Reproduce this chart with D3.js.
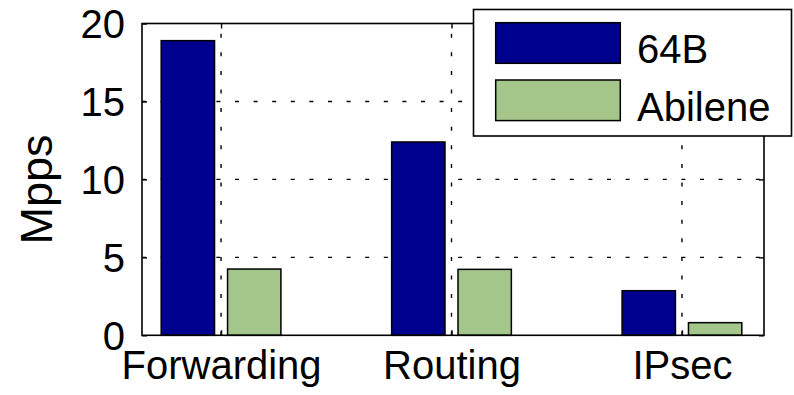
<!DOCTYPE html>
<html>
<head>
<meta charset="utf-8">
<script src="https://cdn.jsdelivr.net/npm/d3@7"></script>
<style>
  html, body { margin: 0; padding: 0; background: #fff; }
  svg { display: block; }
  text { font-family: "Liberation Sans", Arial, Helvetica, sans-serif; fill: #000; }
</style>
</head>
<body>
<svg id="chart" width="794" height="395"></svg>
<script>
// Throughput per workload, in million packets per second
const categories = ["Forwarding", "Routing", "IPsec"];
const seriesNames = ["64B", "Abilene"];
const values64B = [18.9, 12.4, 2.86];
const valuesAbilene = [4.25, 4.23, 0.81];
const yTicks = [0, 5, 10, 15, 20];
const yLabel = "Mpps";

const colors = ["#00008f", "#a5c68a"];
const series = [values64B, valuesAbilene];

const svg = d3.select("#chart");

const plot = { left: 142, right: 764, top: 23.5, bottom: 335.3 };

// Categories sit at positions 1..n, bars offset either side of the centre
const x = d3.scaleLinear().domain([0.657, 3.356]).range([plot.left, plot.right]);
const y = d3.scaleLinear().domain([0, 20]).range([plot.bottom, plot.top]);
const barOffset = [-0.144, 0.144];
const barWidth = 0.2315;

// Dotted grid
const grid = svg.append("g").attr("stroke", "#000").attr("stroke-width", 1.4)
  .attr("stroke-dasharray", "4,14.6");
grid.selectAll("line.h").data(yTicks.filter(t => t > 0 && t < 20)).join("line")
  .attr("class", "h")
  .attr("x1", plot.left).attr("x2", plot.right)
  .attr("y1", d => y(d)).attr("y2", d => y(d));
grid.selectAll("line.v").data(categories).join("line")
  .attr("class", "v")
  .attr("x1", (d, i) => x(i + 1)).attr("x2", (d, i) => x(i + 1))
  .attr("y1", plot.bottom).attr("y2", plot.top);

// Bars
series.forEach((vals, s) => {
  svg.append("g").selectAll("rect").data(vals).join("rect")
    .attr("x", (d, i) => x(i + 1 + barOffset[s] - barWidth / 2))
    .attr("width", x(barWidth) - x(0))
    .attr("y", d => y(d))
    .attr("height", d => y(0) - y(d))
    .attr("fill", colors[s])
    .attr("stroke", "#000")
    .attr("stroke-width", 1.5);
});

// Axes with inward ticks, tick labels drawn by the axis generators
const yAxis = d3.axisLeft(y).tickValues(yTicks).tickSize(-5).tickPadding(17);
const gy = svg.append("g").attr("transform", `translate(${plot.left},0)`).call(yAxis);
gy.select(".domain").remove();
gy.selectAll(".tick line").attr("stroke", "#000").attr("stroke-width", 1.4);
gy.selectAll(".tick text").attr("font-size", 40).attr("font-family", "Liberation Sans, Arial, sans-serif")
  .attr("dy", "0.36em");

const yAxisR = d3.axisRight(y).tickValues(yTicks).tickSize(-5).tickFormat("");
const gyr = svg.append("g").attr("transform", `translate(${plot.right},0)`).call(yAxisR);
gyr.select(".domain").remove();
gyr.selectAll(".tick line").attr("stroke", "#000").attr("stroke-width", 1.4);

const xAxis = d3.axisBottom(x).tickValues([1, 2, 3]).tickSize(-5).tickPadding(15)
  .tickFormat((d) => categories[d - 1]);
const gx = svg.append("g").attr("transform", `translate(0,${plot.bottom})`).call(xAxis);
gx.select(".domain").remove();
gx.selectAll(".tick line").attr("stroke", "#000").attr("stroke-width", 1.4);
gx.selectAll(".tick text").attr("font-size", 40).attr("font-family", "Liberation Sans, Arial, sans-serif")
  .attr("dy", "0.71em");

const xAxisT = d3.axisTop(x).tickValues([1, 2, 3]).tickSize(-5).tickFormat("");
const gxt = svg.append("g").attr("transform", `translate(0,${plot.top})`).call(xAxisT);
gxt.select(".domain").remove();
gxt.selectAll(".tick line").attr("stroke", "#000").attr("stroke-width", 1.4);

// Axes box
svg.append("rect")
  .attr("x", plot.left).attr("y", plot.top)
  .attr("width", plot.right - plot.left).attr("height", plot.bottom - plot.top)
  .attr("fill", "none").attr("stroke", "#000").attr("stroke-width", 1.6);

// Y label
svg.append("text")
  .attr("transform", `translate(52,${(plot.top + plot.bottom) / 2 + 10}) rotate(-90)`)
  .attr("text-anchor", "middle")
  .attr("font-size", 45)
  .text(yLabel);

// Legend
const lg = svg.append("g");
lg.append("rect")
  .attr("x", 473.5).attr("y", 9.5).attr("width", 318).attr("height", 126.5)
  .attr("fill", "#fff").attr("stroke", "#000").attr("stroke-width", 1.6);
const legendRows = [22.7, 80];
seriesNames.forEach((name, i) => {
  lg.append("rect")
    .attr("x", 495.7).attr("y", legendRows[i]).attr("width", 124.6).attr("height", 40.6)
    .attr("fill", colors[i]).attr("stroke", "#000").attr("stroke-width", 1.5);
  lg.append("text")
    .attr("x", 637).attr("y", legendRows[i] + 40.6)
    .attr("font-size", 40)
    .text(name);
});
</script>
</body>
</html>
